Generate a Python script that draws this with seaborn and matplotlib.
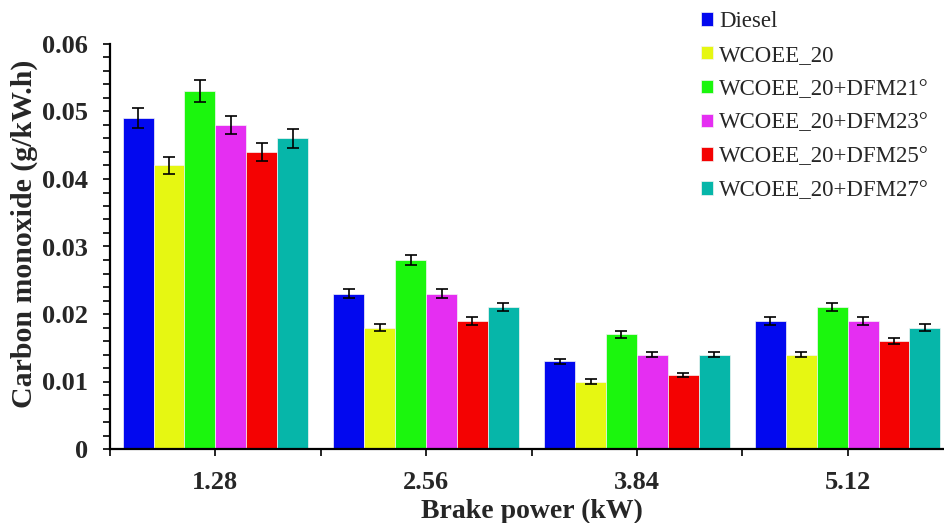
import numpy as np
import pandas as pd
import matplotlib
matplotlib.use("Agg")
import matplotlib.pyplot as plt
import seaborn as sns

# ---- data ----
powers = ["1.28", "2.56", "3.84", "5.12"]
fuels = ["Diesel", "WCOEE_20", "WCOEE_20+DFM21°", "WCOEE_20+DFM23°",
         "WCOEE_20+DFM25°", "WCOEE_20+DFM27°"]
diesel = [0.049, 0.023, 0.013, 0.019]
wcoee20 = [0.042, 0.018, 0.010, 0.014]
dfm21 = [0.053, 0.028, 0.017, 0.021]
dfm23 = [0.048, 0.023, 0.014, 0.019]
dfm25 = [0.044, 0.019, 0.011, 0.016]
dfm27 = [0.046, 0.021, 0.014, 0.018]
err_diesel = [0.0015, 0.0007, 0.0004, 0.0006]
err_wcoee20 = [0.0013, 0.0005, 0.0003, 0.0004]
err_dfm21 = [0.0016, 0.0008, 0.0005, 0.0006]
err_dfm23 = [0.0014, 0.0007, 0.0004, 0.0006]
err_dfm25 = [0.0013, 0.0006, 0.0003, 0.0005]
err_dfm27 = [0.0014, 0.0006, 0.0004, 0.0005]
y_ticks = [0, 0.01, 0.02, 0.03, 0.04, 0.05, 0.06]
y_ticklabels = ["0", "0.01", "0.02", "0.03", "0.04", "0.05", "0.06"]
colors = ["#0208EF", "#E6F712", "#1BF60D", "#E52EF2", "#F40202", "#06B6A9"]

series = [diesel, wcoee20, dfm21, dfm23, dfm25, dfm27]
errors = [err_diesel, err_wcoee20, err_dfm21, err_dfm23, err_dfm25, err_dfm27]

rows = []
for f, vals in zip(fuels, series):
    for p, v in zip(powers, vals):
        rows.append({"power": p, "fuel": f, "co": v})
df = pd.DataFrame(rows)

sns.set_theme(style="white")
plt.rcParams["font.family"] = ["Liberation Serif", "DejaVu Serif"]

fig = plt.figure(figsize=(9.44, 5.23), dpi=100)
ax = fig.add_axes([110 / 944, 1 - 449 / 523, 843 / 944, 405 / 523])

sns.barplot(data=df, x="power", y="co", hue="fuel", order=powers,
            hue_order=fuels, palette=colors, width=0.88, gap=0,
            errorbar=None, saturation=1, edgecolor="#f4f4f4",
            linewidth=0.5, ax=ax)

for cont, errs in zip(ax.containers, errors):
    xs = [b.get_x() + b.get_width() / 2 for b in cont]
    ys = [b.get_height() for b in cont]
    ax.errorbar(xs, ys, yerr=errs, fmt="none", ecolor="black",
                elinewidth=1.2, capsize=4.5, capthick=1.2, zorder=5)

handles, labels = ax.get_legend_handles_labels()
if ax.get_legend() is not None:
    ax.get_legend().remove()
fig.legend(handles[:6], labels[:6], loc="upper left",
           bbox_to_anchor=(701 / 944, 1 - 11 / 523), frameon=False,
           fontsize=16.5, handlelength=0.53, handleheight=0.53,
           handletextpad=0.25, labelspacing=0.56, borderpad=0,
           borderaxespad=0)

ax.set_xlim(-0.5, 3.5)
ax.set_ylim(0, 0.06)
ax.set_xticks(range(len(powers)))
ax.set_xticks([-0.5, 0.5, 1.5, 2.5, 3.5], minor=True)
ax.set_xticklabels(powers, fontsize=19, fontweight="bold")
ax.set_yticks(y_ticks)
ax.set_yticks(np.arange(0, 0.0601, 0.002), minor=True)
ax.set_yticklabels(y_ticklabels, fontsize=19, fontweight="bold")

ax.tick_params(axis="both", which="both", direction="out", length=5,
               width=1.2, color="black", left=True, bottom=True)
ax.tick_params(axis="y", which="major", pad=11)
ax.tick_params(axis="x", which="major", pad=11)

for s in ["top", "right"]:
    ax.spines[s].set_visible(False)
for s in ["left", "bottom"]:
    ax.spines[s].set_color("black")
    ax.spines[s].set_linewidth(1.6)

ax.set_xlabel("Brake power (kW)", fontsize=20, fontweight="bold")
ax.set_ylabel("Carbon monoxide (g/kW.h)", fontsize=21.5, fontweight="bold")
ax.xaxis.set_label_coords(0.5, (449 - 499) / 405)
ax.yaxis.set_label_coords((38 - 110) / 843, (449 - 233.5) / 405)

fig.savefig("out.png", dpi=100)
